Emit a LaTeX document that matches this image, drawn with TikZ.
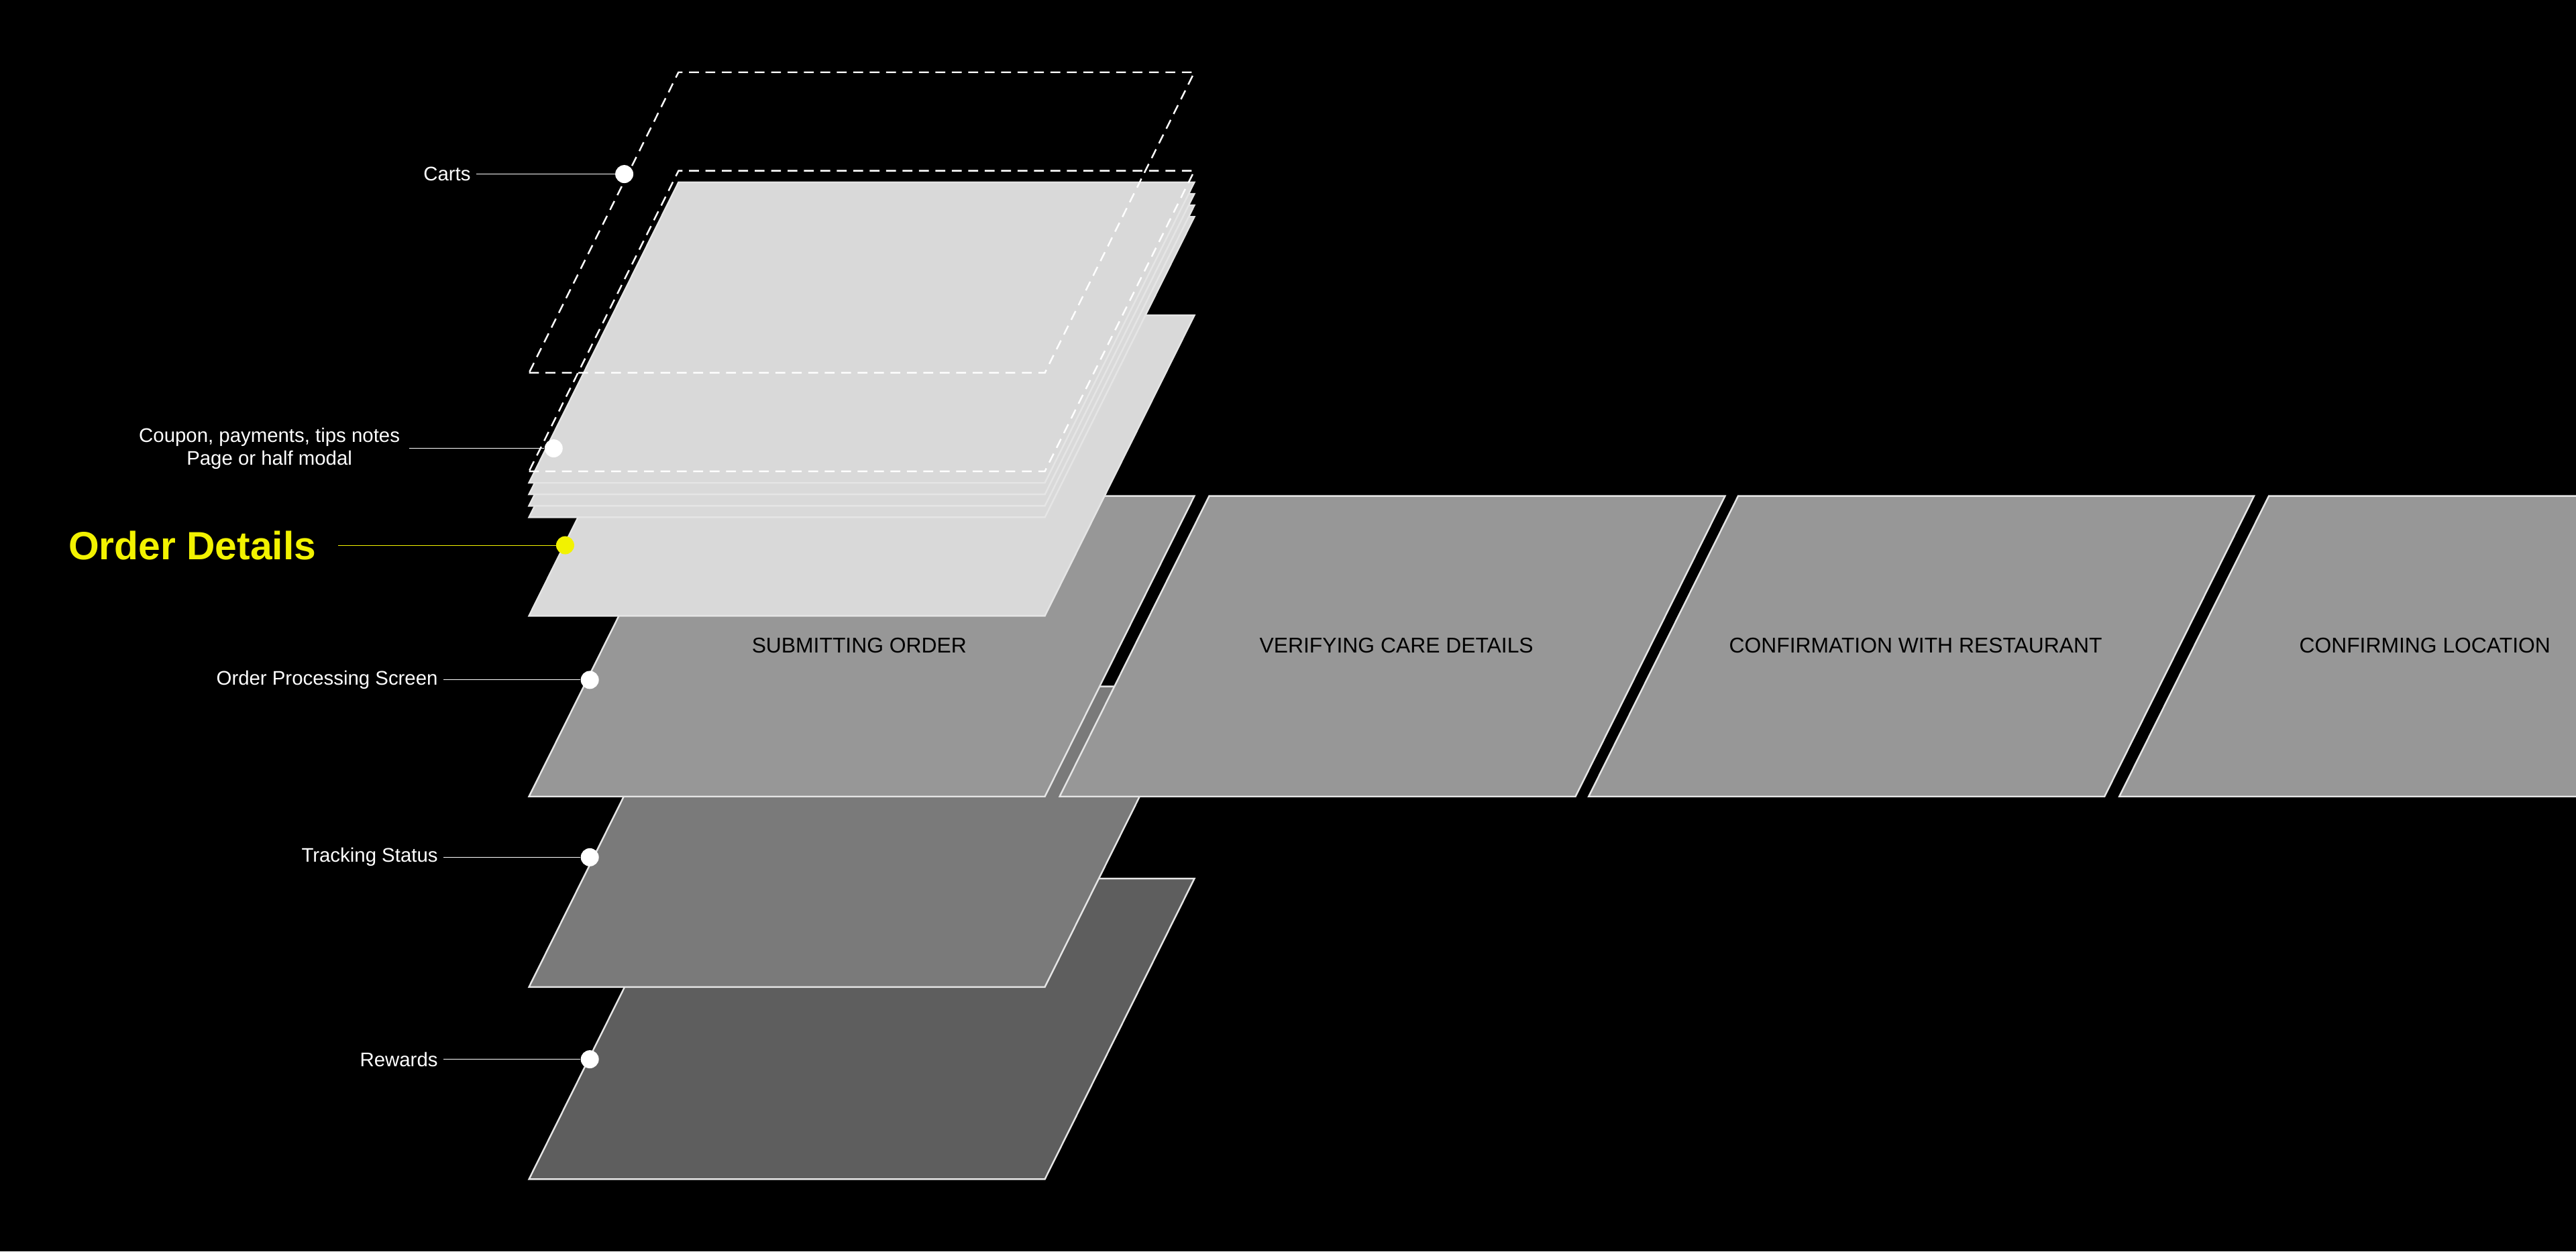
\documentclass[tikz,border=0pt]{standalone}
\usepackage{fontspec}
\setmainfont{Liberation Sans}
\definecolor{sheetA}{HTML}{D9D9D9}
\definecolor{sheetB}{HTML}{979797}
\definecolor{sheetC}{HTML}{7A7A7A}
\definecolor{sheetD}{HTML}{5E5E5E}
\definecolor{hilite}{HTML}{F2F200}
\tikzset{
  sheet/.style={draw=white!90!black,line width=1pt},
  cut/.style={draw=white,dashed,line width=1pt,dash pattern=on 6pt off 4pt},
  pin/.style={circle,fill=white,inner sep=0pt,minimum size=11pt},
  lbl/.style={text=white,font=\fontsize{12}{14}\selectfont,align=center},
  stage/.style={text=black,font=\fontsize{13}{15}\selectfont}
}
% sheet with bottom left corner at (#2,#3)
\newcommand\panel[4][sheet]{\draw[#1,fill=#2] (#3,#4) -- ++(314,0) -- ++(91,-183) -- ++(-314,0) -- cycle;}
\begin{document}
\begin{tikzpicture}[x=1pt,y=-1pt]
        \fill[black] (0,0) rectangle (1568,762);
        \useasboundingbox (0,0) rectangle (1568,762);
        % lower sheets
        \panel{sheetD}{322}{718}
        \panel{sheetC}{322}{601}
        % processing chain
        \foreach \x in {322,645,967,1290}
        \panel{sheetB}{\x}{485};
        \node[stage] (submit) at (523,393) {SUBMITTING ORDER};
        \node[stage] (verify) at (850,393) {VERIFYING CARE DETAILS};
        \node[stage] (confirm) at (1166,393) {CONFIRMATION WITH RESTAURANT};
        \node[stage] (locate) at (1476,393) {CONFIRMING LOCATION};
        % order details and modal stack
        \panel{sheetA}{322}{375}
        \foreach \y in {315,308,301,294}
        \panel{sheetA}{322}{\y};
        % carts
        \draw[cut] (322,287) -- ++(314,0) -- ++(91,-183) -- ++(-314,0) -- cycle;
        \draw[cut] (322,227) -- ++(314,0) -- ++(91,-183) -- ++(-314,0) -- cycle;
        % labels
        \node[pin] (pcarts) at (380,106) {};
        \node[lbl,anchor=east] (tcarts) at (290,106) {Carts};
        \node[pin] (pmodal) at (337,273) {};
        \node[lbl] (tmodal) at (164,273) {Coupon, payments, tips notes\\Page or half modal};
        \node[pin,fill=hilite] (porder) at (344,332) {};
        \node[text=hilite,anchor=east,font=\fontsize{24}{28}\selectfont\bfseries] (torder) at (196,332) {Order Details};
        \node[pin] (pproc) at (359,414) {};
        \node[lbl,anchor=east] (tproc) at (270,414) {Order Processing Screen};
        \node[pin] (ptrack) at (359,522) {};
        \node[lbl,anchor=east] (ttrack) at (270,522) {Tracking Status};
        \node[pin] (preward) at (359,645) {};
        \node[lbl,anchor=east] (treward) at (270,645) {Rewards};
        \draw[white] (tcarts) -- (pcarts);
        \draw[white] (tmodal.east) ++(2,0) coordinate (emodal);
        \draw[white] (emodal) -- (pmodal);
        \draw[hilite] (torder.east) ++(10,0) coordinate (eorder);
        \draw[hilite] (eorder) -- (porder);
        \draw[white] (tproc) -- (pproc);
        \draw[white] (ttrack) -- (ptrack);
        \draw[white] (treward) -- (preward);
\end{tikzpicture}
\end{document}
